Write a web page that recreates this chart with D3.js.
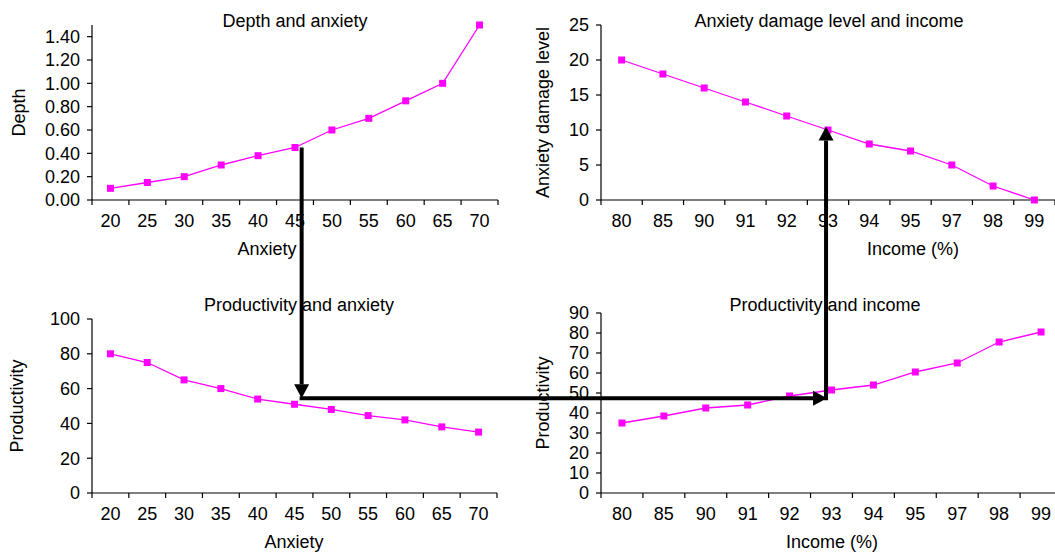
<!DOCTYPE html>
<html>
<head>
<meta charset="utf-8">
<script src="https://cdn.jsdelivr.net/npm/d3@7"></script>
<style>
  body { margin: 0; background: #fff; }
  text { font-family: "Liberation Sans", Arial, sans-serif; fill: #000; }
  .tick-y { font-size: 18px; }
  .tick-x { font-size: 18px; }
  .title, .axis-label { font-size: 18px; }
</style>
</head>
<body>
<div id="chart"></div>
<script>
// categories
const anxietyCats = ["20", "25", "30", "35", "40", "45", "50", "55", "60", "65", "70"];
const incomeCats = ["80", "85", "90", "91", "92", "93", "94", "95", "97", "98", "99"];

// series values
const depthVals = [0.10, 0.15, 0.20, 0.30, 0.38, 0.45, 0.60, 0.70, 0.85, 1.00, 1.50];
const damageVals = [20, 18, 16, 14, 12, 10, 8, 7, 5, 2, 0];
const prodAnxVals = [80, 75, 65, 60, 54, 51, 48, 44.5, 42, 38, 35];
const prodIncVals = [35, 38.5, 42.5, 44, 48.5, 51.5, 54, 60.5, 65, 75.5, 80.5];

// tick labels
const depthTicks = [0, 0.2, 0.4, 0.6, 0.8, 1.0, 1.2, 1.4];
const damageTicks = [0, 5, 10, 15, 20, 25];
const prodAnxTicks = [0, 20, 40, 60, 80, 100];
const prodIncTicks = [0, 10, 20, 30, 40, 50, 60, 70, 80, 90];

// the reading path drawn with arrows (anxiety 45 -> productivity -> income 93 -> damage)
const pathAnxiety = "45";
const pathDepth = 0.45;
const pathProductivity = 54.5;
const pathIncome = "93";
const pathDamage = 10.5;

const svg_width = 1055;
const svg_height = 552;
const magenta = "#FF00FF";

const svg = d3.select("#chart").append("svg")
  .attr("width", svg_width).attr("height", svg_height);

// one small panel: band x axis with ticks at the band edges, linear y axis
function drawPanel(p){
  const xScale = d3.scaleBand().domain(p.cats).range([p.left, p.right]);
  const yScale = d3.scaleLinear().domain([0, p.max]).range([p.bottom, p.top]);
  const g = svg.append("g");

  // axis lines
  g.append("line")
   .attr("x1", p.left).attr("x2", p.left)
   .attr("y1", p.top).attr("y2", p.bottom)
   .attr("stroke", "#000").attr("stroke-width", 1.2);
  g.append("line")
   .attr("x1", p.left).attr("x2", p.right)
   .attr("y1", p.bottom).attr("y2", p.bottom)
   .attr("stroke", "#000").attr("stroke-width", 1.2);

  // y ticks
  const yTicks = g.selectAll(".ytick").data(p.ticks).enter().append("g")
                  .attr("class", "ytick")
                  .attr("transform", d => `translate(${p.left},${yScale(d)})`);
  yTicks.append("line").attr("x1", -5).attr("x2", 0).attr("stroke", "#000").attr("stroke-width", 1.2);
  yTicks.append("text").attr("class", "tick-y")
        .attr("x", -12).attr("dy", "0.35em")
        .attr("text-anchor", "end")
        .text(p.fmt);

  // x ticks at band edges
  const edges = p.cats.map(c => xScale(c)).concat([p.right]);
  g.selectAll(".xtick").data(edges).enter().append("line")
   .attr("x1", d => d).attr("x2", d => d)
   .attr("y1", p.bottom).attr("y2", p.bottom + 5)
   .attr("stroke", "#000").attr("stroke-width", 1.2);
  g.selectAll(".xlab").data(p.cats).enter().append("text")
   .attr("class", "tick-x")
   .attr("x", d => xScale(d) + xScale.bandwidth() / 2)
   .attr("y", p.bottom + 27)
   .attr("text-anchor", "middle")
   .text(d => d);

  // series
  const pts = p.cats.map((c, i) => ({x: xScale(c) + xScale.bandwidth() / 2, y: yScale(p.vals[i])}));
  g.append("path")
   .attr("d", d3.line().x(d => d.x).y(d => d.y)(pts))
   .attr("fill", "none").attr("stroke", magenta).attr("stroke-width", 1.3);
  g.selectAll(".pt").data(pts).enter().append("rect")
   .attr("x", d => d.x - 3.5).attr("y", d => d.y - 3.5)
   .attr("width", 7).attr("height", 7)
   .attr("fill", magenta);

  // texts
  g.append("text").attr("class", "title")
   .attr("x", p.titleX).attr("y", p.top + p.titleDy)
   .attr("text-anchor", "middle").text(p.title);
  g.append("text").attr("class", "axis-label")
   .attr("x", p.xLabelX).attr("y", p.bottom + p.xLabelDy)
   .attr("text-anchor", "middle").text(p.xLabel);
  g.append("text").attr("class", "axis-label")
   .attr("transform", `translate(${p.yLabelX},${(p.top + p.bottom) / 2}) rotate(-90)`)
   .attr("text-anchor", "middle").text(p.yLabel);

  return {x: xScale, y: yScale};
}

const p1 = drawPanel({
  cats: anxietyCats, vals: depthVals, ticks: depthTicks, max: 1.5,
  left: 92, right: 498, top: 25, bottom: 200,
  fmt: d => d.toFixed(2),
  title: "Depth and anxiety", titleX: 295, titleDy: 2,
  xLabel: "Anxiety", xLabelX: 267, xLabelDy: 55,
  yLabel: "Depth", yLabelX: 25
});
const p2 = drawPanel({
  cats: incomeCats, vals: damageVals, ticks: damageTicks, max: 25,
  left: 601, right: 1055, top: 25, bottom: 200,
  fmt: d => d,
  title: "Anxiety damage level and income", titleX: 829, titleDy: 2,
  xLabel: "Income (%)", xLabelX: 913, xLabelDy: 55,
  yLabel: "Anxiety damage level", yLabelX: 549
});
const p3 = drawPanel({
  cats: anxietyCats, vals: prodAnxVals, ticks: prodAnxTicks, max: 100,
  left: 92, right: 497, top: 319, bottom: 493,
  fmt: d => d,
  title: "Productivity and anxiety", titleX: 299, titleDy: -8,
  xLabel: "Anxiety", xLabelX: 294, xLabelDy: 55,
  yLabel: "Productivity", yLabelX: 23
});
const p4 = drawPanel({
  cats: incomeCats, vals: prodIncVals, ticks: prodIncTicks, max: 90,
  left: 601, right: 1062, top: 313, bottom: 493,
  fmt: d => d,
  title: "Productivity and income", titleX: 825, titleDy: -2,
  xLabel: "Income (%)", xLabelX: 832, xLabelDy: 55,
  yLabel: "Productivity", yLabelX: 549
});

// thick black arrow: shaft plus triangular head
function arrow(x1, y1, x2, y2){
  const len = Math.hypot(x2 - x1, y2 - y1);
  const ux = (x2 - x1) / len, uy = (y2 - y1) / len;
  const head = 14, half = 7.5;
  const bx = x2 - ux * head, by = y2 - uy * head;
  svg.append("line")
     .attr("x1", x1).attr("y1", y1).attr("x2", bx).attr("y2", by)
     .attr("stroke", "#000").attr("stroke-width", 4);
  svg.append("path")
     .attr("d", `M${x2},${y2}L${bx - uy * half},${by + ux * half}L${bx + uy * half},${by - ux * half}Z`)
     .attr("fill", "#000");
}

const ax = p1.x(pathAnxiety) + p1.x.bandwidth() * 0.68;
const ay = p1.y(pathDepth);
const hy = p3.y(pathProductivity);
const ix = p4.x(pathIncome) + p4.x.bandwidth() * 0.37;
const iy = p2.y(pathDamage);

arrow(ax, ay, ax, hy);
arrow(ax - 2, hy, ix + 1, hy);
arrow(ix, hy + 2, ix, iy);
</script>
</body>
</html>
